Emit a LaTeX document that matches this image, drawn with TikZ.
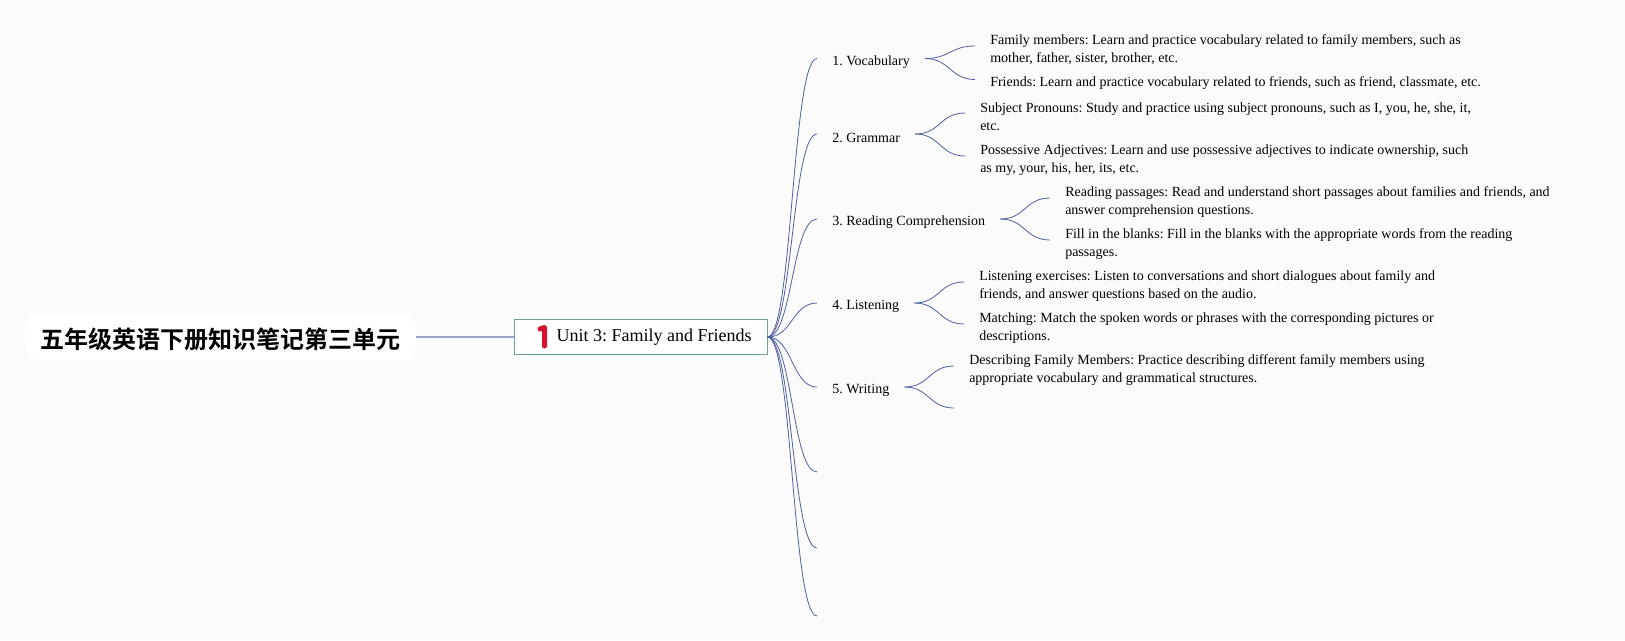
\documentclass[tikz,border=0pt]{standalone}
\usepackage{xcolor}
\usepackage{fontspec}
\setmainfont{Liberation Serif}
\newfontfamily\cjkfont{Noto Sans CJK SC}[BoldFont={Noto Sans CJK SC Bold}]
\frenchspacing
\definecolor{pagebg}{HTML}{FBFBFC}
\definecolor{linkblue}{HTML}{4F5F9F}
\definecolor{rootlink}{HTML}{9AA5CC}
\definecolor{unitgreen}{HTML}{6FA38F}
\definecolor{iconred}{HTML}{D4122F}
\begin{document}
\begin{tikzpicture}[
  x=0.75pt, y=-0.75pt,
  root/.style={fill=white, rounded corners=11pt, minimum width=293pt, minimum height=35pt,
    inner sep=0pt, text height=18pt, text depth=1.2pt, font=\cjkfont\fontsize{18}{22}\bfseries\selectfont},
  unit/.style={draw=unitgreen, fill=white, line width=0.75pt, text width=189.75pt, minimum height=26pt,
    inner sep=0pt, align=flush left, font=\fontsize{13.5}{16}\selectfont},
  topic/.style={anchor=west, inner xsep=11.25pt, inner ysep=0pt, font=\fontsize{10.5}{13.5}\selectfont},
  leaf/.style={anchor=west, align=left, inner xsep=11.25pt, inner ysep=0pt, font=\fontsize{10.5}{13.5}\selectfont},
  link/.style={draw=linkblue, line width=0.6pt},
  lead/.style={draw=rootlink, line width=1.3pt}
]
  \fill[pagebg] (0,0) rectangle (1625,640);
  \useasboundingbox (0,0) rectangle (1625,640);

  \node[root] (root) at (220.5,337) {五年级英语下册知识笔记第三单元};
  \node[unit] (unit) at (640.5,337) {\hspace*{32pt}Unit 3: Family and Friends};
  \draw[iconred, line width=3.75pt, line cap=round, line join=round] (540,329) -- (544.5,327.5) -- (544.5,346);

  % topics
  \node[topic] (vocab) at (817,62) {1. Vocabulary};
  \node[topic] (gram) at (817,137.5) {2. Grammar};
  \node[topic] (read) at (817,222.5) {3. Reading Comprehension};
  \node[topic] (listen) at (817,306.5) {4. Listening};
  \node[topic] (write) at (817,390.5) {5. Writing};
  \coordinate (blanka) at (817,472);
  \coordinate (blankb) at (817,548);
  \coordinate (blankc) at (817,616);

  % leaves
  \node[leaf] (family) at (975,50) {Family members: Learn and practice vocabulary related to family members, such as\\mother, father, sister, brother, etc.};
  \node[leaf] (friends) at (975,83.5) {Friends: Learn and practice vocabulary related to friends, such as friend, classmate, etc.};
  \node[leaf] (subject) at (965,117) {Subject Pronouns: Study and practice using subject pronouns, such as I, you, he, she, it,\\etc.};
  \node[leaf] (possess) at (965,160) {Possessive Adjectives: Learn and use possessive adjectives to indicate ownership, such\\as my, your, his, her, its, etc.};
  \node[leaf] (passage) at (1050,202) {Reading passages: Read and understand short passages about families and friends, and\\answer comprehension questions.};
  \node[leaf] (blanks) at (1050,244) {Fill in the blanks: Fill in the blanks with the appropriate words from the reading\\passages.};
  \node[leaf] (exercise) at (964,286) {Listening exercises: Listen to conversations and short dialogues about family and\\friends, and answer questions based on the audio.};
  \node[leaf] (matching) at (964,328) {Matching: Match the spoken words or phrases with the corresponding pictures or\\descriptions.};
  \node[leaf] (describe) at (954,370) {Describing Family Members: Practice describing different family members using\\appropriate vocabulary and grammatical structures.};
  \coordinate (blankd) at (954,408);

  \draw[lead] (root) -- (unit);

  \foreach \t in {vocab,gram,read,listen,write}
    \draw[link] (unit.east) .. controls +(25,0) and +(-25,0) .. ([yshift=2.6pt]\t.west);
  \foreach \t in {blanka,blankb,blankc}
    \draw[link] (unit.east) .. controls +(25,0) and +(-25,0) .. (\t);

  \foreach \a/\b in {vocab/family,vocab/friends,gram/subject,gram/possess,read/passage,read/blanks,listen/exercise,listen/matching,write/describe}
    \draw[link] ([yshift=2.6pt]\a.east) .. controls +(25,0) and +(-25,0) .. ([yshift=3pt]\b.west);
  \draw[link] ([yshift=2.6pt]write.east) .. controls +(25,0) and +(-25,0) .. (blankd);
\end{tikzpicture}
\end{document}
